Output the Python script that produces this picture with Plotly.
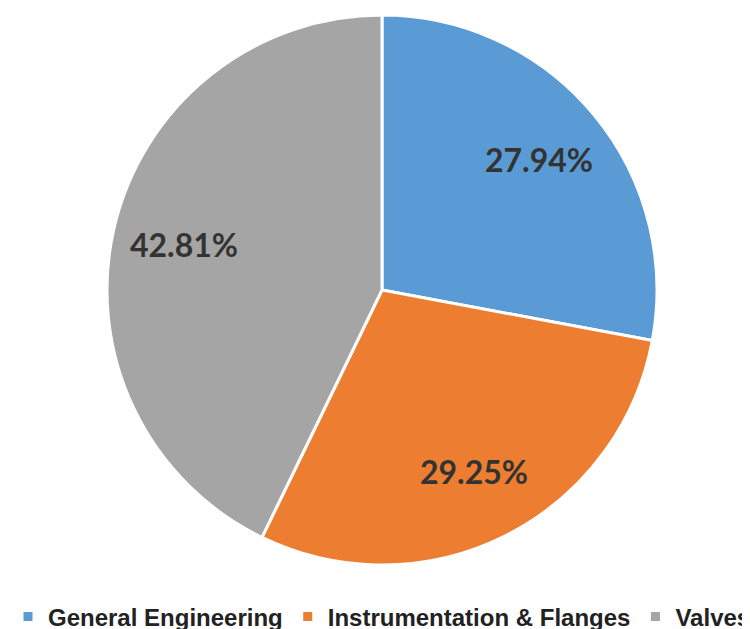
import math
import plotly.graph_objects as go

categories = ["General Engineering", "Instrumentation & Flanges", "Valves"]
values = [27.94, 29.25, 42.81]
colors = ["#5B9BD5", "#ED7D31", "#A5A5A5"]

OFF = 8          # page body margin
W, H = 750, 629
CX, CY, R = 382 - OFF, 290 - OFF, 275  # pie centre / radius in figure pixels
LABEL_FRAC = 0.74

fig = go.Figure(go.Pie(
    labels=categories,
    values=values,
    sort=False,
    direction="clockwise",
    rotation=0,
    marker=dict(colors=colors, line=dict(color="white", width=3)),
    textinfo="none",
    domain=dict(x=[(CX - R) / W, (CX + R) / W], y=[(H - CY - R) / H, (H - CY + R) / H]),
    hoverinfo="label+percent",
))

# percentage labels placed along each slice's mid-angle
total = sum(values)
cum = 0.0
annotations = []
for v in values:
    mid = (cum + v / 2) / total * 2 * math.pi  # clockwise from top
    cum += v
    px = CX + LABEL_FRAC * R * math.sin(mid)
    py = CY - LABEL_FRAC * R * math.cos(mid)
    annotations.append(dict(
        x=px / W, y=(H - py) / H, xref="paper", yref="paper",
        text=f"{v / total * 100:.2f}%", showarrow=False,
        xanchor="center", yanchor="middle",
        font=dict(family="Lato, Open Sans, sans-serif", size=32, color="#333333", weight="bold"),
    ))

fig.update_layout(
    width=W, height=H,
    margin=dict(l=0, r=0, t=0, b=0, autoexpand=False),
    paper_bgcolor="white",
    plot_bgcolor="white",
    showlegend=True,
    annotations=annotations,
    legend=dict(
        orientation="h",
        x=0, xanchor="left",
        y=(H - (617 - OFF)) / H, yanchor="middle",
        font=dict(family="Liberation Sans, Arial, sans-serif", size=24, color="#222222", weight="bold"),
        traceorder="normal",
        itemwidth=30,
        tracegroupgap=0,
    ),
)

fig.write_html("out.html")
